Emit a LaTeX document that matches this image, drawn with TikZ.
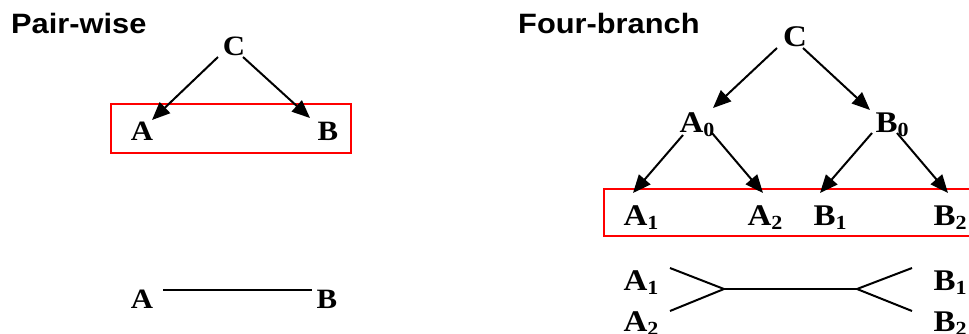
\documentclass[tikz,border=0pt]{standalone}
\usepackage{fontspec}
\setmainfont[FakeStretch=1.1]{Liberation Serif}
\newfontfamily\headfont[FakeStretch=1.1]{Liberation Sans}
\usetikzlibrary{arrows.meta}
% lowered index digit
\newcommand\idx[1]{\lower4pt\hbox{\fontsize{20}{20}\selectfont #1}}
\tikzset{
  head/.style={font=\headfont\bfseries\fontsize{28}{28}\selectfont, inner sep=0pt, anchor=base west},
  lblS/.style={font=\bfseries\fontsize{28}{28}\selectfont, inner sep=2pt, anchor=base},
  lblL/.style={font=\bfseries\fontsize{30}{30}\selectfont, inner sep=2pt, anchor=base},
  arr/.style={line width=2pt, -{Triangle[length=18pt,width=15pt]}},
  ln/.style={line width=2pt},
  frame/.style={draw=red, line width=2pt}
}
\begin{document}
\begin{tikzpicture}[x=1pt,y=-1pt]
\useasboundingbox (0,0) rectangle (969,333);

% headings
\node[head] (h1) at (11,33) {Pair-wise};
\node[head] (h2) at (518,33) {Four-branch};

% highlighted leaf rows
\draw[frame] (111,104) rectangle (351,153);
\draw[frame] (604,189) rectangle (985,236);

% pair-wise tree
\node[lblS] (pc) at (234,55) {C};
\node[lblS] (pa) at (142,140) {A};
\node[lblS] (pb) at (328,140) {B};
\draw[arr] ([shift={(-16,2)}]pc.base) -- ([shift={(10,-20)}]pa.base);
\draw[arr] ([shift={(9,2)}]pc.base) -- ([shift={(-18,-22)}]pb.base);

% pair-wise unrooted
\node[lblS] (pa2) at (142,308) {A};
\node[lblS] (pb2) at (327,308) {B};
\draw[ln] ([shift={(21,-18)}]pa2.base) -- ([shift={(-15,-18)}]pb2.base);

% four-branch tree
\node[lblL] (c4) at (795,46) {C};
\node[lblL] (a0) at (697,132) {A\idx{0}};
\node[lblL] (b0) at (892,132) {B\idx{0}};
\node[lblL] (a1) at (641,225) {A\idx{1}};
\node[lblL] (a2) at (765,225) {A\idx{2}};
\node[lblL] (b1) at (830,225) {B\idx{1}};
\node[lblL] (b2) at (950,225) {B\idx{2}};
\draw[arr] ([shift={(-18,2)}]c4.base) -- ([shift={(16,-24)}]a0.base);
\draw[arr] ([shift={(8,2)}]c4.base) -- ([shift={(-22,-22)}]b0.base);
\draw[arr] ([shift={(-14,3)}]a0.base) -- ([shift={(-8,-32)}]a1.base);
\draw[arr] ([shift={(15,1)}]a0.base) -- ([shift={(-2,-32)}]a2.base);
\draw[arr] ([shift={(-20,1)}]b0.base) -- ([shift={(-10,-32)}]b1.base);
\draw[arr] ([shift={(5,1)}]b0.base) -- ([shift={(-2,-32)}]b2.base);

% four-branch unrooted
\node[lblL] (a1b) at (641,290) {A\idx{1}};
\node[lblL] (a2b) at (641,331) {A\idx{2}};
\node[lblL] (b1b) at (950,290) {B\idx{1}};
\node[lblL] (b2b) at (950,331) {B\idx{2}};
\coordinate (j1) at (724,289);
\coordinate (j2) at (857,289);
\draw[ln] ([shift={(29,-22)}]a1b.base) -- (j1) -- ([shift={(29,-20)}]a2b.base);
\draw[ln] (j1) -- (j2);
\draw[ln] ([shift={(-38,-22)}]b1b.base) -- (j2) -- ([shift={(-38,-20)}]b2b.base);
\end{tikzpicture}
\end{document}
